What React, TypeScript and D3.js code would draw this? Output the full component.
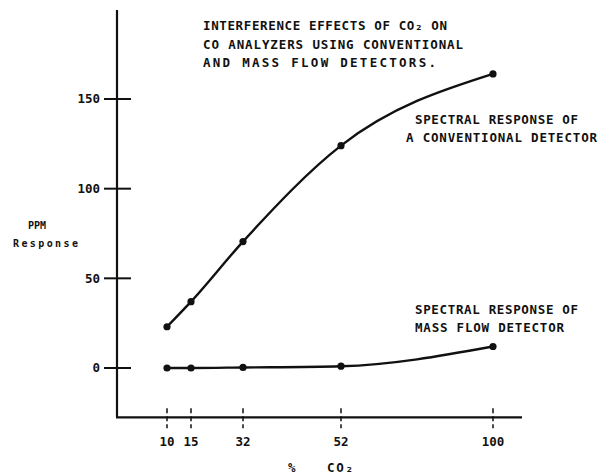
import React from 'react';
import * as d3 from 'd3';

// % CO2 concentrations tested
const co2Levels = [10, 15, 32, 52, 100];
// PPM response
const conventional = [23, 37, 70.5, 124, 164];
const massFlow = [0, 0, 0.3, 1, 12];
const yTicks = [0, 50, 100, 150];

const titleLines = [
  'INTERFERENCE EFFECTS OF CO\u2082 ON',
  'CO ANALYZERS USING CONVENTIONAL',
  'AND MASS FLOW DETECTORS.',
];
const convLabel = ['SPECTRAL RESPONSE OF', 'A CONVENTIONAL DETECTOR'];
const massLabel = ['SPECTRAL RESPONSE OF', 'MASS FLOW DETECTOR'];

const W = 603;
const H = 474;
const ink = '#111';
const font = '"DejaVu Sans Mono", monospace';

const App = () => {
  // the hand-drawn axis is not evenly spaced, so the scale is piecewise
  const x = d3.scaleLinear().domain(co2Levels).range([167, 191, 243, 341, 493]);
  const y = d3.scaleLinear().domain([0, 150]).range([368, 99]);
  const axisX = 117;
  const axisY = y(-27.5);

  const line = d3
    .line<number>()
    .x((_, i) => x(co2Levels[i]))
    .y((d) => y(d))
    .curve(d3.curveMonotoneX);

  const txt = (s: string, tx: number, ty: number, len?: number, key?: any, size = 12.5) => (
    <text
      key={key}
      x={tx}
      y={ty}
      fontFamily={font}
      fontWeight="bold"
      fontSize={size}
      fill={ink}
      textLength={len}
      lengthAdjust={len ? 'spacing' : undefined}
    >
      {s}
    </text>
  );

  return (
    <svg width={W} height={H} style={{ position: 'absolute', left: 0, top: 0, background: '#fff' }}>
      {/* axes */}
      <line x1={axisX} x2={axisX} y1={10} y2={axisY} stroke={ink} strokeWidth={2.2} />
      <line x1={axisX - 1} x2={522} y1={axisY} y2={axisY} stroke={ink} strokeWidth={2.2} />

      {yTicks.map((t) => (
        <g key={t}>
          <line x1={104} x2={131} y1={y(t)} y2={y(t)} stroke={ink} strokeWidth={2} />
          <text
            x={100}
            y={y(t)}
            dy="0.35em"
            textAnchor="end"
            fontFamily={font}
            fontWeight="bold"
            fontSize={12.5}
            fill={ink}
          >
            {t}
          </text>
        </g>
      ))}

      {co2Levels.map((t) => (
        <g key={t}>
          <line
            x1={x(t)}
            x2={x(t)}
            y1={axisY - 9}
            y2={axisY + 11}
            stroke={ink}
            strokeWidth={1.5}
            strokeDasharray="5,3"
          />
          <text
            x={x(t)}
            y={axisY + 29}
            textAnchor="middle"
            fontFamily={font}
            fontWeight="bold"
            fontSize={12.5}
            fill={ink}
          >
            {t}
          </text>
        </g>
      ))}

      {/* axis titles */}
      {txt('%', 288, 472)}
      {txt('CO\u2082', 327, 472, 26)}
      {txt('PPM', 28, 229, 18, 'ppm', 10)}
      {txt('Response', 13, 247, 65, 'resp', 10)}

      {/* curves */}
      <path d={line(conventional) || ''} fill="none" stroke={ink} strokeWidth={2.4} />
      <path d={line(massFlow) || ''} fill="none" stroke={ink} strokeWidth={2.4} />
      {conventional.map((v, i) => (
        <circle key={'c' + i} cx={x(co2Levels[i])} cy={y(v)} r={3.6} fill={ink} />
      ))}
      {massFlow.map((v, i) => (
        <circle key={'m' + i} cx={x(co2Levels[i])} cy={y(v)} r={3.6} fill={ink} />
      ))}

      {/* annotations */}
      {titleLines.map((s, i) => txt(s, 203, 30 + i * 18.5, [244, 260, 233][i], 't' + i))}
      {convLabel.map((s, i) => txt(s, i ? 406 : 415, 124 + i * 18, [163, 191][i], 'cl' + i))}
      {massLabel.map((s, i) => txt(s, 415, 314 + i * 18, [163, 149][i], 'ml' + i))}
    </svg>
  );
};

export default App;
